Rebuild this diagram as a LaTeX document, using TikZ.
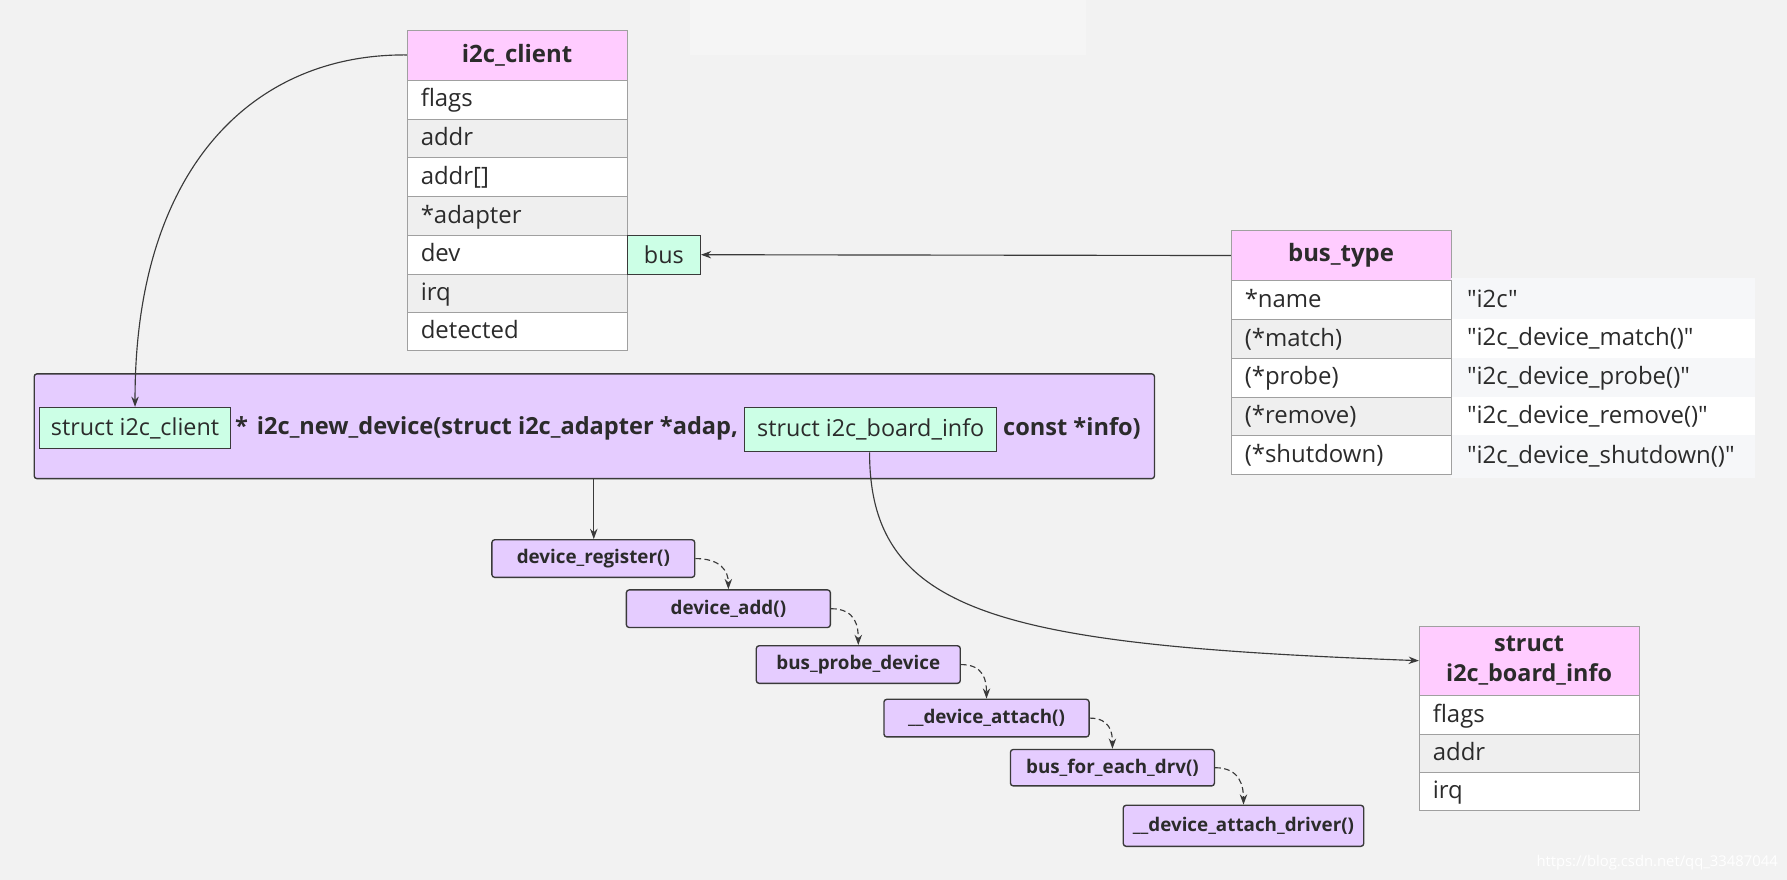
\documentclass[tikz,border=0pt]{standalone}
\usepackage{fontspec}
\setmainfont{Open Sans}
\newfontfamily\rawfont[Ligatures=TeXOff]{Open Sans}
\usetikzlibrary{arrows.meta}
\definecolor{bg}{HTML}{F2F2F2}
\definecolor{pinkh}{HTML}{FFCCFF}
\definecolor{lav}{HTML}{E5CCFF}
\definecolor{mint}{HTML}{CCFFE6}
\definecolor{rowg}{HTML}{EFEFEF}
\definecolor{bord}{HTML}{A0A0A0}
\definecolor{dk}{HTML}{3A3A3A}
\definecolor{txt}{HTML}{2B2B2B}
\definecolor{valg}{HTML}{F6F7F9}
\begin{document}
\begin{tikzpicture}[x=1pt,y=-1pt,
  every node/.style={text=txt},
  hdr/.style={draw=bord, fill=pinkh, anchor=north west, inner sep=0pt, minimum width=193pt, font=\fontsize{21}{25}\selectfont\bfseries, align=center},
  rowc/.style={draw=bord, anchor=north west, inner xsep=12pt, inner ysep=0pt, text width=169pt, minimum height=34pt, text height=16pt, text depth=3pt, align=left, font=\fontsize{21}{25}\selectfont},
  valc/.style={anchor=west, inner sep=0pt, text height=16pt, text depth=3pt, font=\rawfont\fontsize{21}{25}\selectfont},
  mintbox/.style={draw=dk, fill=mint, line width=1pt, anchor=north west, inner sep=0pt, font=\fontsize{20.5}{24}\selectfont},
  fnbox/.style={draw=dk, fill=lav, line width=1.2pt, rounded corners=2.5pt, anchor=north west, inner sep=0pt, font=\fontsize{16.5}{20}\selectfont\bfseries},
  conn/.style={draw=dk, line width=1pt, -{Stealth[length=9pt,width=6.5pt]}},
  dconn/.style={draw=dk, line width=1pt, dash pattern=on 5pt off 3pt, -{Stealth[length=9pt,width=6.5pt]}}
]
\fill[bg] (0,0) rectangle (1568,772);
\useasboundingbox (0,0) rectangle (1568,772);
% faint watermark box
\fill[white, opacity=0.25] (605,0) rectangle (953,48);

% i2c_client table
\node[hdr, minimum height=44pt] (ch) at (357,26) {i2c\_client};
\node[rowc, fill=white] (c1) at (357,70) {flags};
\node[rowc, fill=rowg] (c2) at (357,104) {addr};
\node[rowc, fill=white] (c3) at (357,138) {addr[]};
\node[rowc, fill=rowg] (c4) at (357,172) {*adapter};
\node[rowc, fill=white] (c5) at (357,206) {dev};
\node[rowc, fill=rowg] (c6) at (357,240) {irq};
\node[rowc, fill=white, minimum height=33pt] (c7) at (357,274) {detected};
\node[mintbox, minimum width=64pt, minimum height=34pt] (bus) at (550,206) {bus};

% bus_type table
\node[hdr, minimum height=44pt] (bh) at (1080,202) {bus\_type};
\fill[valg] (1273,244) rectangle (1540,280);
\fill[white] (1273,280) rectangle (1540,314);
\fill[valg] (1273,314) rectangle (1540,348);
\fill[white] (1273,348) rectangle (1540,382);
\fill[valg] (1273,382) rectangle (1540,419);
\node[rowc, fill=white] (b1) at (1080,246) {*name};
\node[rowc, fill=rowg] (b2) at (1080,280) {(*match)};
\node[rowc, fill=white] (b3) at (1080,314) {(*probe)};
\node[rowc, fill=rowg] (b4) at (1080,348) {(*remove)};
\node[rowc, fill=white] (b5) at (1080,382) {(*shutdown)};
\node[valc] (v1) at (1287,263) {"i2c"};
\node[valc] (v2) at (1287,297) {"i2c\_device\_match()"};
\node[valc] (v3) at (1287,331) {"i2c\_device\_probe()"};
\node[valc] (v4) at (1287,365) {"i2c\_device\_remove()"};
\node[valc] (v5) at (1287,400) {"i2c\_device\_shutdown()"};

% board info table
\node[hdr, minimum height=61pt, font=\fontsize{20.5}{26}\selectfont\bfseries] (ih) at (1245,549) {struct\\i2c\_board\_info};
\node[rowc, fill=white] (i1) at (1245,610) {flags};
\node[rowc, fill=rowg, minimum height=33pt] (i2) at (1245,644) {addr};
\node[rowc, fill=white] (i3) at (1245,677) {irq};

% main function box
\draw[draw=dk, fill=lav, line width=1.2pt, rounded corners=2.5pt] (30,328) rectangle (1013,420);
\node[mintbox, minimum width=168pt, minimum height=36pt] (g1) at (34,357) {struct i2c\_client};
\node[anchor=west, inner sep=0pt, font=\fontsize{20.7}{25}\selectfont\bfseries] (fn) at (206,376) {*\hspace{8pt}i2c\_new\_device(struct i2c\_adapter *adap,};
\node[mintbox, minimum width=221pt, minimum height=39pt] (g2) at (653,357) {struct i2c\_board\_info};
\node[anchor=west, inner sep=0pt, font=\fontsize{20.7}{25}\selectfont\bfseries] (fn2) at (880,376) {const *info)};
\coordinate (mb) at (521,420);

% call chain
\node[fnbox, minimum width=178pt, minimum height=33pt] (f1) at (431,473) {device\_register()};
\node[fnbox, minimum width=179pt, minimum height=33pt] (f2) at (549,517) {device\_add()};
\node[fnbox, minimum width=179pt, minimum height=33pt] (f3) at (663,566) {bus\_probe\_device};
\node[fnbox, minimum width=180pt, minimum height=33pt] (f4) at (775,613) {\_\_device\_attach()};
\node[fnbox, minimum width=179pt, minimum height=32pt] (f5) at (886,657) {bus\_for\_each\_drv()};
\node[fnbox, minimum width=211pt, minimum height=36pt] (f6) at (985,706) {\_\_device\_attach\_driver()};

% connectors
\draw[conn] (ch.west) .. controls (220,47) and (118,150) .. (g1.north);
\draw[conn] (bh.west) -- (bus.east);
\draw[conn] (mb) -- (f1.north -| mb);
\draw[conn] (g2.south -| 763,0) .. controls (763,540) and (880,566) .. (ih.west);
\draw[dconn] (f1.east) .. controls +(22,0) and +(0,-16) .. (f2.north);
\draw[dconn] (f2.east) .. controls +(22,0) and +(0,-16) .. (f3.north);
\draw[dconn] (f3.east) .. controls +(20,0) and +(0,-16) .. (f4.north);
\draw[dconn] (f4.east) .. controls +(18,0) and +(0,-14) .. (f5.north);
\draw[dconn] (f5.east) .. controls +(22,0) and +(0,-16) .. (f6.north);

% watermark
\node[anchor=west, inner sep=0pt, text=white, font=\fontsize{13}{16}\selectfont] (wm) at (1348,757) {https://blog.csdn.net/qq\_33487044};
\end{tikzpicture}
\end{document}
